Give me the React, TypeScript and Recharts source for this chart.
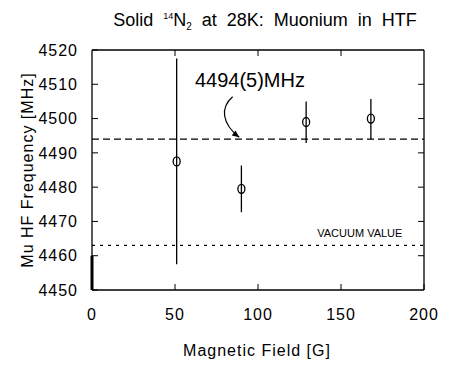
import React from "react";
import { ComposedChart, Scatter, ErrorBar, XAxis, YAxis, ReferenceLine, ReferenceDot } from "recharts";

const fields = [51, 90, 129, 168];
const freqs = [4487.5, 4479.5, 4499, 4500];
const errDown = [30, 6.8, 6.1, 6];
const errUp = [30, 6.8, 6, 5.7];

const xTicks = [0, 50, 100, 150, 200];
const yTicks = [4450, 4460, 4470, 4480, 4490, 4500, 4510, 4520];
const xMin = 0;
const xMax = 200;
const yMin = 4450;
const yMax = 4520;

const fitValue = 4494;
const fitLabel = "4494(5)MHz";
const vacuumValue = 4463;
const vacuumLabel = "VACUUM VALUE";

const points = fields.map((x, i) => ({ x, y: freqs[i], err: [errDown[i], errUp[i]] }));

const FONT = "'Liberation Sans', Arial, sans-serif";
const tickStyle = { fill: "#000", fontSize: 16, fontFamily: FONT, letterSpacing: 1 };

// plot box, matches the chart margins below
const W = 451;
const H = 372;
const margin = { top: 50, right: 27, bottom: 52, left: 0 };
const yAxisW = 92;
const xAxisH = 30;
const boxLeft = margin.left + yAxisW;
const boxTop = margin.top;
const boxRight = W - margin.right;
const boxBottom = H - margin.bottom - xAxisH;

function Circle(props: any) {
  return <ellipse cx={props.cx} cy={props.cy} rx={3.5} ry={4.5} fill="none" stroke="#000" strokeWidth={1.3} />;
}

// text + curved arrow pointing at the fitted line
function FitNote(props: any) {
  const { cx, cy } = props;
  return (
    <g>
      <text x={cx} y={cy} fontSize={20} fontFamily={FONT} fill="#000">
        {fitLabel}
      </text>
      <path
        d={`M${cx + 37.7},${cy + 10} C${cx + 25},${cy + 21} ${cx + 27},${cy + 37} ${cx + 44.3},${cy + 50.6}`}
        fill="none"
        stroke="#000"
        strokeWidth={1.2}
      />
      <polygon
        points={`${cx + 44.3},${cy + 50.6} ${cx + 36.9},${cy + 48.7} ${cx + 40.6},${cy + 43.9}`}
        fill="#000"
      />
    </g>
  );
}

function VacuumNote(props: any) {
  return (
    <text x={props.cx} y={props.cy} fontSize={11} fontFamily={FONT} fill="#000" textAnchor="end">
      {vacuumLabel}
    </text>
  );
}

// separate svg on top of the chart: titles, axis names, top/right frame with inward ticks
function Overlay() {
  const sx = (v: number) => boxLeft + ((v - xMin) / (xMax - xMin)) * (boxRight - boxLeft);
  const sy = (v: number) => boxBottom - ((v - yMin) / (yMax - yMin)) * (boxBottom - boxTop);
  return (
    <svg
      width={W}
      height={H}
      style={{ position: "absolute", left: 0, top: 0, pointerEvents: "none", overflow: "visible" }}
    >
      <line x1={boxLeft} y1={boxTop} x2={boxRight} y2={boxTop} stroke="#000" strokeWidth={1.3} />
      <line x1={boxRight} y1={boxTop} x2={boxRight} y2={boxBottom} stroke="#000" strokeWidth={1.3} />
      {xTicks.slice(1, -1).map((t) => (
        <line key={"x" + t} x1={sx(t)} y1={boxTop} x2={sx(t)} y2={boxTop + 6} stroke="#000" strokeWidth={1} />
      ))}
      {yTicks.slice(1, -1).map((t) => (
        <line key={"y" + t} x1={boxRight} y1={sy(t)} x2={boxRight - 6} y2={sy(t)} stroke="#000" strokeWidth={1} />
      ))}
      <g fontFamily={FONT} fill="#000">
        <text x={265} y={26} fontSize={18} textAnchor="middle" wordSpacing={5}>
          <tspan>Solid </tspan>
          <tspan dy={-7} fontSize={9}>14</tspan>
          <tspan dy={7}>N</tspan>
          <tspan dy={4} fontSize={10}>2</tspan>
          <tspan dy={-4}> at 28K: Muonium in HTF</tspan>
        </text>
        <text x={257} y={356} fontSize={16} textAnchor="middle" letterSpacing={1}>
          Magnetic Field [G]
        </text>
        <text x={33} y={170} fontSize={16} textAnchor="middle" letterSpacing={1} transform="rotate(-90 33 170)">
          Mu HF Frequency [MHz]
        </text>
      </g>
    </svg>
  );
}

export default function App() {
  const axisLine = { stroke: "#000", strokeWidth: 1.3 };
  return (
    <div style={{ position: "absolute", left: 0, top: 0, width: W, height: H, background: "#fff" }}>
      <ComposedChart width={W} height={H} margin={margin} data={points}>
        <XAxis
          dataKey="x"
          type="number"
          domain={[xMin, xMax]}
          ticks={xTicks}
          height={xAxisH}
          tickSize={-6}
          tickMargin={25}
          tick={tickStyle}
          tickLine={{ stroke: "#000" }}
          axisLine={axisLine}
        />
        <YAxis
          type="number"
          domain={[yMin, yMax]}
          ticks={yTicks}
          width={yAxisW}
          tickSize={-6}
          tickMargin={20}
          tick={tickStyle}
          tickLine={{ stroke: "#000" }}
          axisLine={axisLine}
        />
        <ReferenceLine y={fitValue} stroke="#000" strokeWidth={1.2} strokeDasharray="7 4" />
        <ReferenceLine y={vacuumValue} stroke="#000" strokeWidth={1.2} strokeDasharray="3 5" />
        <ReferenceLine
          segment={[
            { x: 0, y: 4450 },
            { x: 0, y: 4460 },
          ]}
          stroke="#000"
          strokeWidth={3}
        />
        <Scatter data={points} dataKey="y" shape={Circle} isAnimationActive={false}>
          <ErrorBar dataKey="err" direction="y" width={0} stroke="#000" strokeWidth={1.3} />
        </Scatter>
        <ReferenceDot x={62} y={4509.3} shape={FitNote} />
        <ReferenceDot x={187} y={4465.5} shape={VacuumNote} />
      </ComposedChart>
      <Overlay />
    </div>
  );
}
